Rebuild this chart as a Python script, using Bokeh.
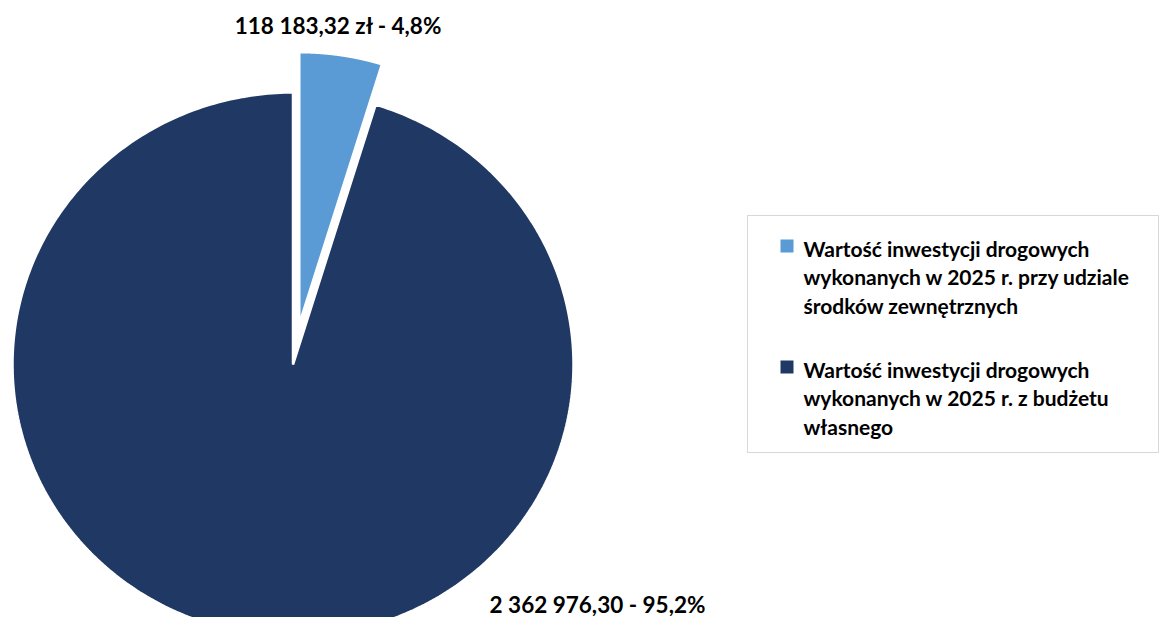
import numpy as np
from bokeh.plotting import figure
from bokeh.models import ColumnDataSource, Range1d, Label, BoxAnnotation
from bokeh.embed import file_html
from bokeh.resources import INLINE

# ---- data ----
series_names = [
    "Wartość inwestycji drogowych\nwykonanych w 2025 r. przy udziale\nśrodków zewnętrznych",
    "Wartość inwestycji drogowych\nwykonanych w 2025 r. z budżetu\nwłasnego",
]
values = [118183.32, 2362976.30]
value_labels = ["118 183,32 zł - 4,8%", "2 362 976,30 - 95,2%"]
colors = ["#5B9BD5", "#1F3864"]
explode = [0.15, 0.0]

# ---- geometry (pie as unit circle in data space; scales differ per axis) ----
W, H = 1159, 617
cx_px, cy_top = 292.5, 364.0   # centre, pixels from left / top
rx_px, ry_px = 280.5, 272.0    # pixels per data unit
cy_px = H - cy_top


def sy(y_top):
    """pixel row from top -> screen units from bottom"""
    return H - y_top


vals = np.array(values, dtype=float)
frac = vals / vals.sum()
ends = np.cumsum(frac) * 2 * np.pi
starts = ends - frac * 2 * np.pi

xs, ys = [], []
for a0, a1, ex in zip(starts, ends, explode):
    t = np.linspace(a0, a1, 400)
    mid = (a0 + a1) / 2
    ox, oy = ex * np.sin(mid), ex * np.cos(mid)
    xs.append(list(np.concatenate([[0.0], np.sin(t)]) + ox))
    ys.append(list(np.concatenate([[0.0], np.cos(t)]) + oy))

src = ColumnDataSource(dict(xs=xs, ys=ys, color=colors, name=series_names))

p = figure(width=W, height=H, output_backend="svg", toolbar_location=None,
           x_range=Range1d(-cx_px / rx_px, (W - cx_px) / rx_px),
           y_range=Range1d(-cy_px / ry_px, (H - cy_px) / ry_px),
           min_border=0, outline_line_color=None)
p.axis.visible = False
p.grid.visible = False
p.background_fill_color = "white"
p.border_fill_color = "white"

p.patches("xs", "ys", source=src, fill_color="color", line_color="white", line_width=2.5)

# ---- legend (frame, colour keys, wrapped labels) ----
p.add_layout(BoxAnnotation(left=747, right=1158, top=sy(215), bottom=sy(452),
                           left_units="screen", right_units="screen",
                           top_units="screen", bottom_units="screen",
                           fill_color="white", fill_alpha=1.0,
                           line_color="#7f7f7f", line_width=1, level="overlay"))

item_tops = [239, 360]
for i, top in enumerate(item_tops):
    p.add_layout(BoxAnnotation(left=780, right=793, top=sy(top), bottom=sy(top + 13),
                               left_units="screen", right_units="screen",
                               top_units="screen", bottom_units="screen",
                               fill_color=colors[i], fill_alpha=1.0,
                               line_color=None, level="overlay"))
    p.add_layout(Label(x=803, y=sy(top - 4), x_units="screen", y_units="screen",
                       text=series_names[i], text_align="left", text_baseline="top",
                       text_font="Lato", text_font_style="bold",
                       text_font_size="21px", text_line_height=1.15,
                       text_color="#000000", level="overlay"))

# ---- data labels ----
for txt, xpx, ytop in [(value_labels[0], 338, 25), (value_labels[1], 597, 604)]:
    p.add_layout(Label(x=xpx, y=sy(ytop), x_units="screen", y_units="screen", text=txt,
                       text_align="center", text_baseline="middle",
                       text_font="Lato", text_font_style="bold",
                       text_font_size="22.5px", text_color="#000000"))

open("out.html", "w").write(file_html(p, INLINE))
